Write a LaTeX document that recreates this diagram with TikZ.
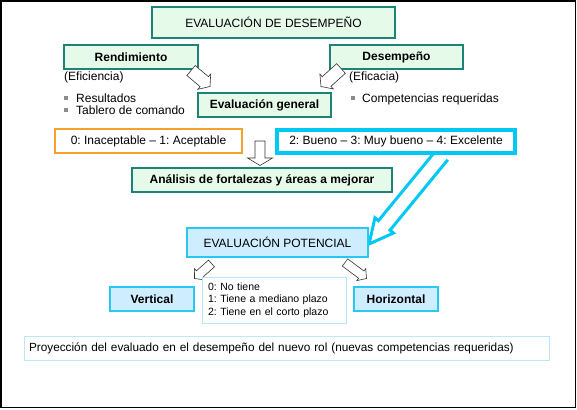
\documentclass[tikz,border=0pt]{standalone}
\usepackage{fontspec}
\setmainfont{Liberation Sans}
\usetikzlibrary{calc}
\frenchspacing
\definecolor{gfill}{RGB}{230,250,234}
\definecolor{gline}{RGB}{30,130,118}
\definecolor{bfill}{RGB}{206,238,255}
\definecolor{bline}{RGB}{40,200,242}
\definecolor{oline}{RGB}{245,162,40}
\definecolor{cyanth}{RGB}{0,200,245}
\definecolor{pline}{RGB}{188,230,250}
\definecolor{bulgray}{RGB}{140,140,140}
% block arrow: style, tail, tip, half shaft, half head, head length, closing
\newcommand\blockarr[7]{%
  \coordinate (ba-base) at ($(#3)!#6!(#2)$);
  \draw[#1] ($(#2)!#4!90:(#3)$) -- ($(ba-base)!#4!90:(#3)$) -- ($(ba-base)!#5!90:(#3)$)
    -- (#3) -- ($(ba-base)!#5!-90:(#3)$) -- ($(ba-base)!#4!-90:(#3)$) -- ($(#2)!#4!-90:(#3)$) #7;
}
\tikzset{
  txt/.style={font=\fontsize{12}{14}\selectfont},
  gbox/.style={txt, draw=gline, fill=gfill, line width=1.1pt, inner sep=0pt},
  bbox/.style={txt, draw=bline, fill=bfill, line width=1.1pt, inner sep=0pt},
  hollow/.style={draw=black!80, fill=white, line width=0.6pt, line join=miter},
  bigarrow/.style={draw=cyanth, fill=white, line width=3pt, line join=miter},
  bullet/.style={fill=bulgray, inner sep=0pt, minimum size=3.8pt},
}
\begin{document}
\begin{tikzpicture}[x=1pt,y=-1pt]
\useasboundingbox (0,0) rectangle (577,409);
\draw[line width=1.6pt] (0.9,0.9) rectangle (575.6,407.6);

% top part
\node[gbox, minimum width=243pt, minimum height=31pt] (title) at (273.5,22.5) {EVALUACIÓN DE DESEMPEÑO};
\node[gbox, minimum width=134pt, minimum height=24pt, font=\fontsize{12}{14}\selectfont\bfseries] (rend) at (131,57) {Rendimiento};
\node[gbox, minimum width=133pt, minimum height=24pt, font=\fontsize{12}{14}\selectfont\bfseries] (desem) at (396.5,57) {Desempeño};

\node[txt, anchor=base west, inner sep=0pt] (efic) at (64,81) {(Eficiencia)};
\node[bullet] (b1) at (66.3,98) {};
\node[txt, anchor=base west, inner sep=0pt] (resul) at (76,102.5) {Resultados};
\node[bullet] (b2) at (66.3,110) {};
\node[txt, anchor=base west, inner sep=0pt] (tabl) at (76,114.5) {Tablero de comando};

\node[txt, anchor=base west, inner sep=0pt] (eficacia) at (349,81) {(Eficacia)};
\node[bullet] (b3) at (352.6,98) {};
\node[txt, anchor=base west, inner sep=0pt] (comp) at (362,102.5) {Competencias requeridas};

\node[gbox, minimum width=133pt, minimum height=24pt, font=\fontsize{12}{14}\selectfont\bfseries] (evalgen) at (264.5,105) {Evaluación general};

% arrows to evaluacion general
\coordinate (a1t) at (191,70.5);
\coordinate (a1h) at (210,86.5);
\blockarr{hollow}{a1t}{a1h}{6.5pt}{10pt}{7.5pt}{-- cycle}
\coordinate (a2t) at (341,68.5);
\coordinate (a2h) at (321,86.5);
\blockarr{hollow}{a2t}{a2h}{6.5pt}{10pt}{7.5pt}{-- cycle}

% scale
\node[txt, draw=oline, line width=1.1pt, fill=white, minimum width=187pt, minimum height=24pt, inner sep=0pt] (inac) at (148.5,141) {0: Inaceptable -- 1: Aceptable};

% cyan big arrow (drawn before box so the box border covers the tail)
\coordinate (a3t) at (442,155);
\coordinate (a3h) at (369,244);
\blockarr{bigarrow}{a3t}{a3h}{7.5pt}{12pt}{24pt}{}

\node[txt, draw=cyanth, line width=4pt, fill=white, minimum width=238pt, minimum height=23pt, inner sep=0pt] (bueno) at (396,141.5) {2: Bueno -- 3: Muy bueno -- 4: Excelente};

\coordinate (a4t) at (260,141);
\coordinate (a4h) at (260,165.5);
\blockarr{hollow}{a4t}{a4h}{5pt}{12.5pt}{7.5pt}{-- cycle}

\node[gbox, minimum width=260pt, minimum height=24pt, font=\fontsize{12}{14}\selectfont\bfseries] (analisis) at (262,180) {Análisis de fortalezas y áreas a mejorar};

% potential
\node[bbox, minimum width=181pt, minimum height=29pt] (pot) at (277.5,242.5) {EVALUACIÓN POTENCIAL};

\coordinate (a5t) at (211.5,263.5);
\coordinate (a5h) at (194.5,278.5);
\blockarr{hollow}{a5t}{a5h}{4.5pt}{7.5pt}{6.5pt}{-- cycle}
\coordinate (a6t) at (345,262.5);
\coordinate (a6h) at (366.5,278.5);
\blockarr{hollow}{a6t}{a6h}{4.5pt}{7.5pt}{6.5pt}{-- cycle}

\node[bbox, minimum width=84pt, minimum height=24pt, font=\fontsize{12}{14}\selectfont\bfseries] (vert) at (152,299) {Vertical};
\node[bbox, minimum width=84pt, minimum height=24pt, font=\fontsize{12}{14}\selectfont\bfseries] (horiz) at (396,299) {Horizontal};

\node[draw=pline, line width=0.9pt, fill=white, minimum width=144pt, minimum height=46pt, inner sep=0pt,
      text width=132pt, align=left, font=\fontsize{10.5}{12.6}\selectfont] (info) at (274,300)
  {0: No tiene\\1: Tiene a mediano plazo\\2: Tiene en el corto plazo};

\node[draw=pline, line width=0.9pt, minimum width=525pt, minimum height=24pt, inner sep=0pt,
      text width=515pt, align=left, font=\fontsize{11.8}{14}\selectfont] (proy) at (286.5,348)
  {Proyección del evaluado en el desempeño del nuevo rol (nuevas competencias requeridas)};
\end{tikzpicture}
\end{document}
